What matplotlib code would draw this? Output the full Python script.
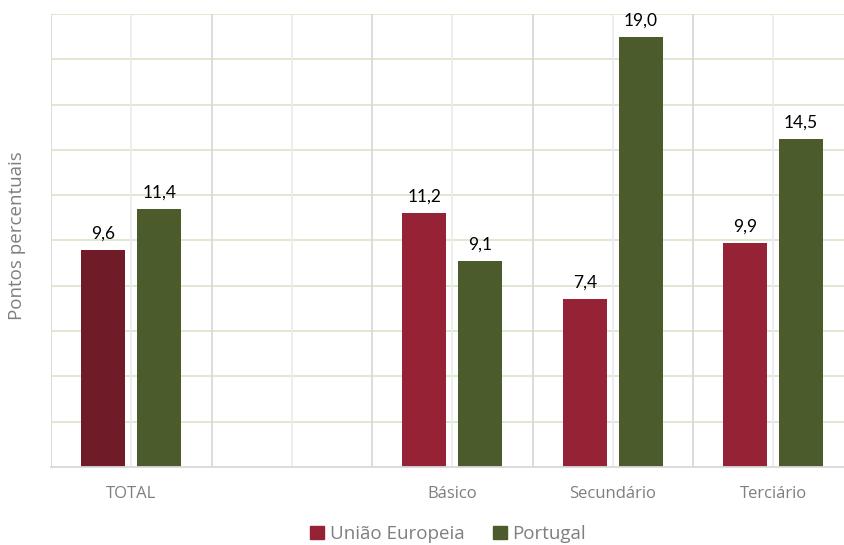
"""Diferença em pontos percentuais: União Europeia vs Portugal, por nível de ensino."""

import matplotlib.pyplot as plt
import numpy as np
from matplotlib.patches import Patch

categories = ["TOTAL", "", "Básico", "Secundário", "Terciário"]
eu_values = [9.6, None, 11.2, 7.4, 9.9]
pt_values = [11.4, None, 9.1, 19.0, 14.5]
series_labels = ["União Europeia", "Portugal"]

EU_COLOR = "#952335"
EU_TOTAL_COLOR = "#6F1C28"
PT_COLOR = "#4B5B2B"
TEXT_GRAY = "#7F7F7F"

W, H, DPI = 844, 545, 100
fig = plt.figure(figsize=(W / DPI, H / DPI), dpi=DPI)
ax = fig.add_axes([51 / W, (H - 467) / H, (W - 51) / W, (467 - 14) / H])

x = np.arange(len(categories))
bar_w = 0.274
offset = 0.174

# Grid: horizontal every 2 pp, vertical at category edges and centres.
for yv in np.arange(2, 21, 2):
    ax.axhline(yv, color="#DCE6CC", lw=1.3, zorder=0)
for xv in np.arange(len(categories) + 1) - 0.5:
    ax.axvline(xv, color="#D9D9D9", lw=1.3, zorder=0)
for xv in x:
    ax.axvline(xv, color="#ECECEC", lw=1.3, zorder=0)

for i, (eu, pt) in enumerate(zip(eu_values, pt_values)):
    if eu is None:
        continue
    c = EU_TOTAL_COLOR if categories[i] == "TOTAL" else EU_COLOR
    for xv, val, col in ((x[i] - offset, eu, c), (x[i] + offset, pt, PT_COLOR)):
        ax.bar(xv, val, width=bar_w, color=col, zorder=2)
        ax.annotate(f"{val:.1f}".replace(".", ","), (xv, val),
                    xytext=(0, 6), textcoords="offset points",
                    ha="center", va="bottom", fontsize=12.5,
                    family="Lato", color="black")

ax.set_xlim(-0.5, -0.5 + (W - 51) / 160.5)
ax.set_ylim(0, 20)
ax.set_xticks(x)
ax.set_xticklabels(categories, fontsize=12, color=TEXT_GRAY, family="Open Sans")
ax.tick_params(axis="x", length=0, pad=14)
ax.set_yticks([])
for side in ("top", "right", "left"):
    ax.spines[side].set_visible(False)
ax.spines["bottom"].set_color("#D9D9D9")
ax.spines["bottom"].set_linewidth(1.3)

fig.text(17 / W, 1 - 236 / H, "Pontos percentuais", rotation=90,
         ha="center", va="center", fontsize=13.5, color=TEXT_GRAY, family="Open Sans")

handles = [Patch(color=EU_COLOR), Patch(color=PT_COLOR)]
fig.legend(handles, series_labels, loc="center", bbox_to_anchor=(448 / W, 1 - 534 / H),
           ncol=2, frameon=False, handlelength=0.75, handleheight=0.75,
           handletextpad=0.3, columnspacing=1.5,
           prop={"family": "Open Sans", "size": 13.5}, labelcolor=TEXT_GRAY)

fig.savefig("out.png", dpi=DPI)
